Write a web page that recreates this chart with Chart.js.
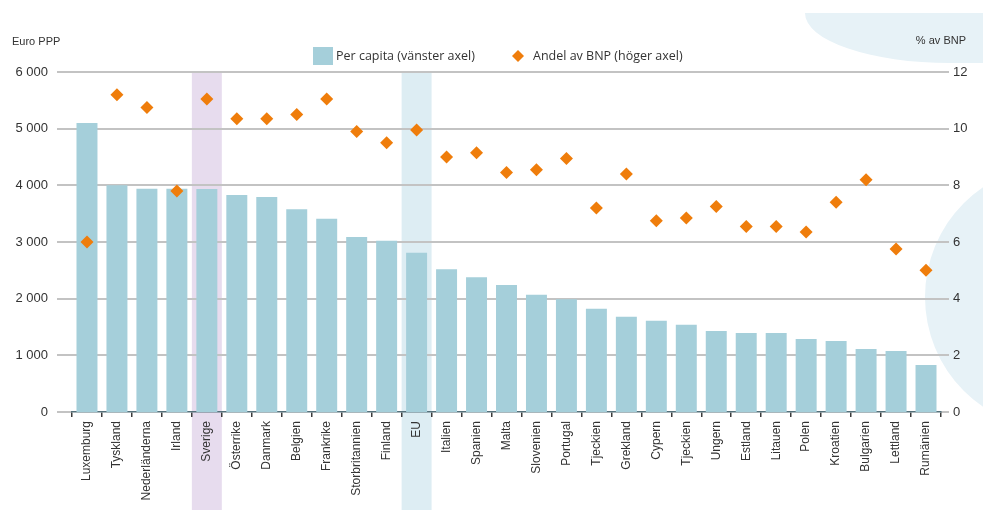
<!DOCTYPE html>
<html lang="sv">
<head>
<meta charset="utf-8">
<title>Per capita och andel av BNP</title>
<script src="https://cdn.jsdelivr.net/npm/chart.js@4.4.1/dist/chart.umd.min.js"></script>
<style>
  html, body { margin: 0; padding: 0; background: #ffffff; }
  #wrap { width: 983px; height: 513px; position: relative; }
  canvas { display: block; }
</style>
</head>
<body>
<div id="wrap"><canvas id="chart" width="983" height="513"></canvas></div>
<script>
// Länder / kategorier längs x-axeln
const countries = [
  "Luxemburg", "Tyskland", "Nederländerna", "Irland", "Sverige", "Österrike",
  "Danmark", "Belgien", "Frankrike", "Storbritannien", "Finland", "EU",
  "Italien", "Spanien", "Malta", "Slovenien", "Portugal", "Tjeckien",
  "Grekland", "Cypern", "Tjeckien", "Ungern", "Estland", "Litauen",
  "Polen", "Kroatien", "Bulgarien", "Lettland", "Rumänien"
];

// Per capita, euro PPP (vänster axel)
const perCapita = [
  5100, 4000, 3940, 3940, 3935, 3830,
  3795, 3580, 3410, 3090, 3020, 2810,
  2520, 2380, 2240, 2070, 1990, 1820,
  1680, 1610, 1540, 1430, 1395, 1395,
  1290, 1255, 1110, 1075, 830
];

// Andel av BNP, procent (höger axel)
const shareOfGdp = [
  6.0, 11.2, 10.75, 7.8, 11.05, 10.35,
  10.35, 10.5, 11.05, 9.9, 9.5, 9.95,
  9.0, 9.15, 8.45, 8.55, 8.95, 7.2,
  8.4, 6.75, 6.85, 7.25, 6.55, 6.55,
  6.35, 7.4, 8.2, 5.75, 5.0
];

// Axlarnas tickvärden
const leftTicks = [0, 1000, 2000, 3000, 4000, 5000, 6000];
const rightTicks = [0, 2, 4, 6, 8, 10, 12];

// Markerade kategorier och deras bakgrundsfärg
const highlightLabels = ["Sverige", "EU"];
const highlightFills = ["#e7dcee", "#ddedf3"];

const seriesNames = ["Per capita (vänster axel)", "Andel av BNP (höger axel)"];

const BAR_COLOR = "#a5cfda";
const POINT_COLOR = "#ef7d0b";
const TEXT_COLOR = "#333333";
const GRID_COLOR = "#c3c3c3";
const FONT = "'Liberation Sans', Arial, sans-serif";
const LEGEND_FONT = "'Open Sans', 'Liberation Sans', sans-serif";

function spaced(v) {
  return String(v).replace(/\B(?=(\d{3})+(?!\d))/g, " ");
}

// Bakgrund: dekorativa former, markeringsband och horisontella stödlinjer
const backdrop = {
  id: "backdrop",
  beforeDraw(chart) {
    const { ctx, chartArea, scales, width, height } = chart;
    ctx.save();

    // dekorativa ljusblå former
    ctx.fillStyle = "#e7f2f7";
    ctx.beginPath();
    ctx.rect(0, 13, width, height - 13);
    ctx.clip();
    ctx.beginPath();
    ctx.ellipse(width - 33, 13, 145, 50, 0, 0, Math.PI * 2);
    ctx.rect(width - 33, 0, 40, 63);
    ctx.fill();
    ctx.beginPath();
    ctx.arc(width + 75, 297, 133, 0, Math.PI * 2);
    ctx.fill();
    ctx.restore();

    // markerade kolumner
    ctx.save();
    const x = scales.x;
    const step = (chartArea.right - chartArea.left) / countries.length;
    highlightLabels.forEach((lab, k) => {
      const i = countries.indexOf(lab);
      const cx = x.getPixelForValue(i);
      ctx.fillStyle = highlightFills[k];
      ctx.fillRect(cx - step / 2, chartArea.top, step, height - 3 - chartArea.top);
    });

    // stödlinjer som sträcker sig något utanför ritytan
    const y = scales.y;
    ctx.strokeStyle = GRID_COLOR;
    ctx.lineWidth = 2;
    leftTicks.forEach(v => {
      if (v === 0) return;
      const py = Math.round(y.getPixelForValue(v));
      ctx.beginPath();
      ctx.moveTo(chartArea.left - 15, py);
      ctx.lineTo(chartArea.right + 8, py);
      ctx.stroke();
    });
    // nollinjen
    const p0 = Math.round(y.getPixelForValue(0));
    ctx.beginPath();
    ctx.moveTo(chartArea.left - 15, p0);
    ctx.lineTo(chartArea.left, p0);
    ctx.moveTo(chartArea.right, p0);
    ctx.lineTo(chartArea.right + 8, p0);
    ctx.stroke();
    ctx.restore();
  }
};

// Förklaring och axeltitlar
const annotations = {
  id: "annotations",
  afterDraw(chart) {
    const { ctx } = chart;
    const bars = chart.data.datasets.find(d => d.type === "bar");
    const points = chart.data.datasets.find(d => d.type === "line");
    ctx.save();
    ctx.textBaseline = "middle";
    ctx.fillStyle = TEXT_COLOR;

    ctx.font = "11px " + FONT;
    ctx.textAlign = "left";
    ctx.fillText("Euro PPP", 12, 42);
    ctx.textAlign = "right";
    ctx.fillText("% av BNP", 966, 41);

    ctx.font = "12.5px " + LEGEND_FONT;
    ctx.textAlign = "left";
    // stapelserien
    ctx.fillStyle = bars.backgroundColor;
    ctx.fillRect(313, 47, 20, 18);
    ctx.fillStyle = TEXT_COLOR;
    ctx.fillText(bars.label, 336, 56);
    // punktserien
    ctx.fillStyle = points.backgroundColor;
    ctx.beginPath();
    ctx.moveTo(518, 50);
    ctx.lineTo(524, 56);
    ctx.lineTo(518, 62);
    ctx.lineTo(512, 56);
    ctx.closePath();
    ctx.fill();
    ctx.fillStyle = TEXT_COLOR;
    ctx.fillText(points.label, 533, 56);
    ctx.restore();
  }
};

new Chart(document.getElementById("chart"), {
  type: "bar",
  data: {
    labels: countries,
    datasets: [
      {
        type: "line",
        label: seriesNames[1],
        data: shareOfGdp,
        yAxisID: "y1",
        showLine: false,
        pointStyle: "rectRot",
        pointRadius: 6.5,
        pointHoverRadius: 6.5,
        backgroundColor: POINT_COLOR,
        borderColor: POINT_COLOR,
        borderWidth: 0,
        order: 0
      },
      {
        type: "bar",
        label: seriesNames[0],
        data: perCapita,
        yAxisID: "y",
        backgroundColor: BAR_COLOR,
        borderWidth: 0,
        barPercentage: 0.7,
        categoryPercentage: 1.0,
        order: 1
      }
    ]
  },
  options: {
    responsive: false,
    devicePixelRatio: 1,
    animation: false,
    events: [],
    layout: { padding: { top: 72, left: 0, right: 0, bottom: 0 } },
    plugins: {
      legend: { display: false },
      tooltip: { enabled: false }
    },
    scales: {
      x: {
        offset: true,
        grid: {
          offset: true,
          drawOnChartArea: false,
          drawTicks: true,
          tickLength: 5,
          color: "#3c3c3c",
          lineWidth: 1.5
        },
        border: { display: true, color: "#55707a", width: 1.5 },
        ticks: {
          autoSkip: false,
          minRotation: 90,
          maxRotation: 90,
          padding: 4,
          color: TEXT_COLOR,
          font: { family: FONT, size: 12 }
        },
        afterFit(scale) { scale.height = 101; }
      },
      y: {
        position: "left",
        min: 0,
        max: 6000,
        afterBuildTicks(scale) { scale.ticks = leftTicks.map(v => ({ value: v })); },
        grid: { display: false, drawTicks: false },
        border: { display: false },
        ticks: {
          padding: 24,
          color: TEXT_COLOR,
          font: { family: FONT, size: 13 },
          callback: v => spaced(v)
        },
        afterFit(scale) { scale.width = 72; }
      },
      y1: {
        position: "right",
        min: 0,
        max: 12,
        afterBuildTicks(scale) { scale.ticks = rightTicks.map(v => ({ value: v })); },
        grid: { display: false, drawTicks: false },
        border: { display: false },
        ticks: {
          padding: 12,
          color: TEXT_COLOR,
          font: { family: FONT, size: 13 }
        },
        afterFit(scale) { scale.width = 42; }
      }
    }
  },
  plugins: [backdrop, annotations]
});
</script>
</body>
</html>
